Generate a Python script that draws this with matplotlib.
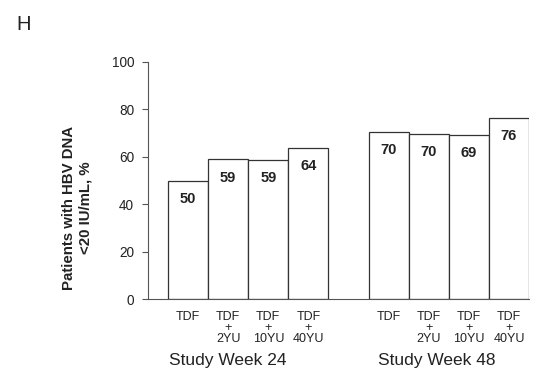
import matplotlib
matplotlib.use('Agg')
import matplotlib.pyplot as plt
import matplotlib.transforms as mtransforms

plt.rcParams['font.family'] = ['Liberation Sans', 'DejaVu Sans']

# values
groups = ['Study Week 24', 'Study Week 48']
arms = ['TDF', 'TDF\n+\n2YU', 'TDF\n+\n10YU', 'TDF\n+\n40YU']
heights = [49.9, 58.9, 58.5, 63.6, 70.6, 69.7, 69.3, 76.4]
labels = ['50', '59', '59', '64', '70', '70', '69', '76']
positions = [0, 1, 2, 3, 5, 6, 7, 8]
group_pos = [1.0, 6.2]

fig = plt.figure(figsize=(5.4, 3.73), dpi=100)
ax = fig.add_axes([148 / 540, 1 - 299.4 / 373, 381 / 540, (299.4 - 61.7) / 373])

ax.bar(positions, heights, width=1.0, color='white', edgecolor='#333333', linewidth=0.9, zorder=2)

for x, h, lab in zip(positions, heights, labels):
    ax.annotate(lab, (x, h), xytext=(0, -8), textcoords='offset points',
                ha='center', va='top', fontsize=10.5, fontweight='bold', color='#222222')

ax.set_xlim(-1, 8.5)
ax.set_ylim(0, 100)
ax.set_yticks([0, 20, 40, 60, 80, 100])
ax.set_xticks(positions)
ax.set_xticklabels(arms * 2, fontsize=9, linespacing=0.92, color='#222222')
ax.tick_params(axis='x', length=0, pad=8)
ax.tick_params(axis='y', length=4, width=0.8, pad=6, labelsize=9.8, color='#555555', labelcolor='#222222')

for s in ['top', 'right']:
    ax.spines[s].set_visible(False)
for s in ['left', 'bottom']:
    ax.spines[s].set_color('#555555')
    ax.spines[s].set_linewidth(0.8)

trans = mtransforms.blended_transform_factory(ax.transData, fig.transFigure)
for gx, g in zip(group_pos, groups):
    ax.text(gx, 1 - 361 / 373, g, transform=trans, ha='center', va='center',
            fontsize=12.5, color='#222222')

fig.text(77 / 540, 1 - 208 / 373, 'Patients with HBV DNA\n<20 IU/mL, %', rotation=90,
         ha='center', va='center', multialignment='center', fontsize=10.8,
         fontweight='bold', color='#222222', linespacing=1.2)

fig.text(16 / 540, 1 - 24 / 373, 'H', fontsize=14.5, va='center', ha='left', color='#222222')

fig.savefig('out.png', dpi=100)
